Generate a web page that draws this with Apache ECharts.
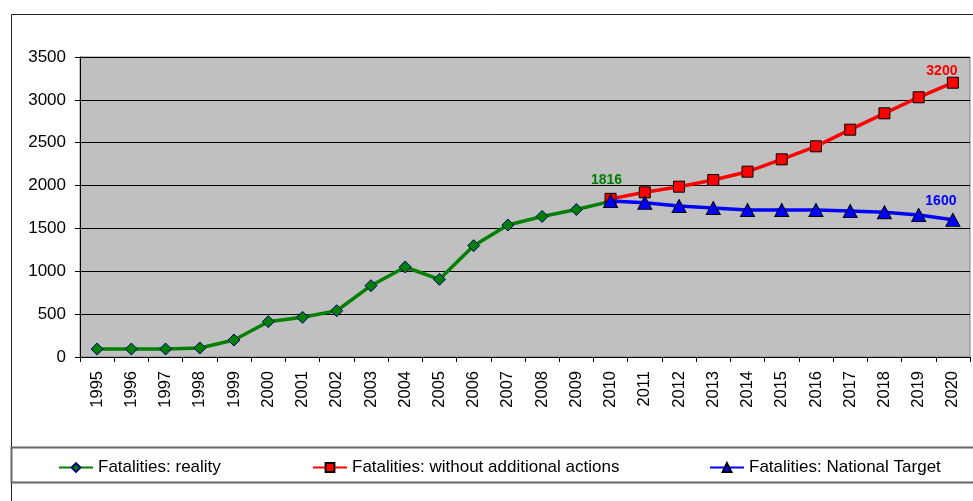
<!DOCTYPE html>
<html><head><meta charset="utf-8">
<script src="https://cdn.jsdelivr.net/npm/echarts@6/dist/echarts.min.js"></script>
<style>html,body{margin:0;padding:0;background:#fff}#c{width:973px;height:501px}</style>
</head><body><div id="c"></div>
<script>
const years = ['1995','1996','1997','1998','1999','2000','2001','2002','2003','2004','2005','2006','2007','2008','2009','2010','2011','2012','2013','2014','2015','2016','2017','2018','2019','2020'];
const reality = [93,93,93,105,198,412,463,540,832,1050,906,1299,1540,1640,1720,1816];
const withoutActions = [1845,1921,1987,2065,2162,2306,2458,2652,2843,3030,3200];
const nationalTarget = [1820,1800,1762,1738,1715,1715,1715,1703,1688,1657,1600];
const seriesNames = ['Fatalities: reality','Fatalities: without additional actions','Fatalities: National Target'];
const yTicks = {min:0, max:3500, interval:500};

const FONT = "'Liberation Sans', Arial, sans-serif";
const pad = n => new Array(n).fill(null);
function build(vals, offset, labelIdx, color){
  const arr = pad(offset).concat(vals);
  return arr.map((v,i)=> (i===labelIdx) ? {value:v, label:{show:true, formatter:'{c}', color:color, fontWeight:'bold', fontSize:14, fontFamily:FONT}} : v);
}
const chart = echarts.init(document.getElementById('c'), null, {renderer:'canvas'});
const redOff = years.length - withoutActions.length;
const blueOff = years.length - nationalTarget.length;
const legText = {fontSize:17, color:'#000', fontFamily:FONT};
chart.setOption({
  animation:false,
  backgroundColor:'#fff',
  textStyle:{fontFamily:FONT},
  graphic:[
    {type:'rect', shape:{x:11.5,y:14.5,width:1000,height:600}, style:{fill:'none', stroke:'#222', lineWidth:1}, z:-1},
    {type:'rect', shape:{x:11.5,y:447.5,width:1000,height:35}, style:{fill:'none', stroke:'#666', lineWidth:2}, z:-1}
  ],
  grid:{left:80, top:57, right:3, bottom:144, show:true, backgroundColor:'#C0C0C0', borderColor:'#808080', borderWidth:1},
  legend:[
    {data:[seriesNames[0]], left:58, top:459, padding:0, itemWidth:34, itemHeight:11, itemGap:4, textStyle:legText},
    {data:[seriesNames[1]], left:312, top:459, padding:0, itemWidth:34, itemHeight:11, textStyle:legText},
    {data:[seriesNames[2]], left:709, top:459, padding:0, itemWidth:34, itemHeight:11, textStyle:legText}
  ],
  xAxis:{type:'category', data:years, boundaryGap:true,
    axisLine:{lineStyle:{color:'#000', width:1}},
    axisTick:{show:true, alignWithLabel:false, length:5, lineStyle:{color:'#000'}},
    axisLabel:{rotate:90, fontSize:16.5, color:'#000', margin:14, fontFamily:FONT, interval:0},
    splitLine:{show:false}},
  yAxis:{type:'value', min:yTicks.min, max:yTicks.max, interval:yTicks.interval,
    axisLine:{show:true, lineStyle:{color:'#000', width:1}},
    axisTick:{show:true, length:5, lineStyle:{color:'#000'}},
    axisLabel:{fontSize:17, color:'#000', margin:14, fontFamily:FONT, formatter: v => String(v)},
    splitLine:{show:true, lineStyle:{color:'#000', width:1}}},
  series:[
    {name:seriesNames[0], type:'line', data:build(reality,0,15,'#008000'), color:'#008000',
      lineStyle:{color:'#008000', width:3.5}, symbol:'diamond', symbolSize:12, showAllSymbol:true,
      itemStyle:{color:'#008000', borderColor:'#000080', borderWidth:1},
      label:{position:'top', distance:8, offset:[-4,0]}, z:2},
    {name:seriesNames[1], type:'line', data:build(withoutActions,redOff,25,'#FF0000'), color:'#FF0000',
      lineStyle:{color:'#FF0000', width:3.5}, symbol:'rect', symbolSize:11, showAllSymbol:true,
      itemStyle:{color:'#FF0000', borderColor:'#000', borderWidth:1},
      label:{position:'top', distance:6, offset:[-11,7]}, z:3},
    {name:seriesNames[2], type:'line', data:build(nationalTarget,blueOff,25,'#0000FF'), color:'#0000FF',
      lineStyle:{color:'#0000FF', width:3.5}, symbol:'triangle', symbolSize:[14,13], showAllSymbol:true,
      itemStyle:{color:'#0000FF', borderColor:'#000', borderWidth:1},
      label:{position:'top', distance:10, offset:[-12,5]}, z:4}
  ]
});
</script></body></html>
